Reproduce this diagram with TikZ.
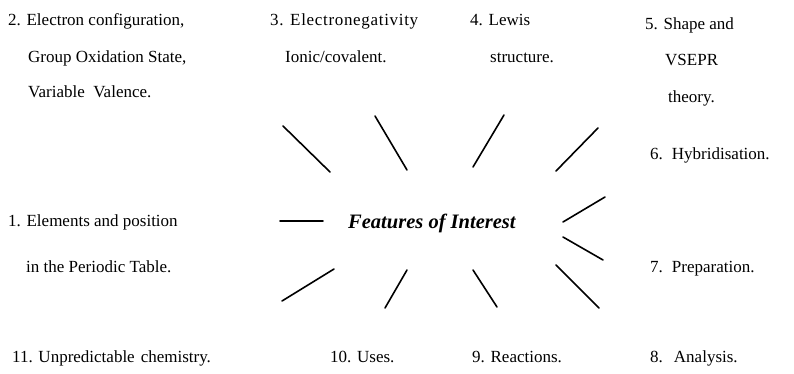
\documentclass[tikz,border=0pt]{standalone}
\usepackage{fontspec}
\setmainfont{Liberation Serif}
\begin{document}
\begin{tikzpicture}[x=1pt,y=-1pt,
  lbl/.style={anchor=base west,inner sep=0pt,font=\fontsize{17}{19}\selectfont},
  hub/.style={anchor=base west,inner sep=0pt,font=\fontsize{20.5}{22}\selectfont\bfseries\itshape},
  spoke/.style={line width=1.6pt,line cap=round}]
\useasboundingbox (0,0) rectangle (794,374);
% labels
\node[lbl] (t2a) at (8,26) {2. Electron configuration,};
\node[lbl] (t2b) at (28,63) {Group Oxidation State,};
\node[lbl] (t2c) at (28,98) {Variable\ \ Valence.};
\node[lbl] (t3a) at (270,26) {\addfontfeature{LetterSpace=4}3. Electronegativity};
\node[lbl] (t3b) at (285,63) {Ionic/covalent.};
\node[lbl] (t4a) at (470,26) {4. Lewis};
\node[lbl] (t4b) at (490,63) {structure.};
\node[lbl] (t5a) at (645,30) {5. Shape and};
\node[lbl] (t5b) at (665,66) {VSEPR};
\node[lbl] (t5c) at (668,103) {theory.};
\node[lbl] (t6) at (650,160) {6.\hspace{9pt}Hybridisation.};
\node[lbl] (t1a) at (8,226) {1. Elements and position};
\node[lbl] (t1b) at (26,272) {in the Periodic Table.};
\node[lbl] (t7) at (650,272) {7.\hspace{9pt}Preparation.};
\node[lbl] (t11) at (12,362) {11. Unpredictable\hspace{6pt}chemistry.};
\node[lbl] (t10) at (330,362) {10. Uses.};
\node[lbl] (t9) at (472,362) {9. Reactions.};
\node[lbl] (t8) at (650,362) {8.\hspace{11pt}Analysis.};
\node[hub] (hub) at (348,228) {Features of Interest};
% spoke end points
\coordinate (a1) at (283,126); \coordinate (a2) at (330,172);
\coordinate (b1) at (375,116); \coordinate (b2) at (407,170);
\coordinate (c1) at (504,115); \coordinate (c2) at (473,167);
\coordinate (d1) at (598,128); \coordinate (d2) at (556,171);
\coordinate (h1) at (280,221); \coordinate (h2) at (323,221);
\coordinate (e1) at (563,222); \coordinate (e2) at (605,197);
\coordinate (f1) at (563,237); \coordinate (f2) at (603,260);
\coordinate (g1) at (282,301); \coordinate (g2) at (334,269);
\coordinate (k1) at (385,308); \coordinate (k2) at (407,270);
\coordinate (i1) at (473,270); \coordinate (i2) at (497,307);
\coordinate (j1) at (556,265); \coordinate (j2) at (599,308);
\foreach \p in {a,b,c,d,h,e,f,g,k,i,j}
  \draw[spoke] (\p1) -- (\p2);
\end{tikzpicture}
\end{document}
